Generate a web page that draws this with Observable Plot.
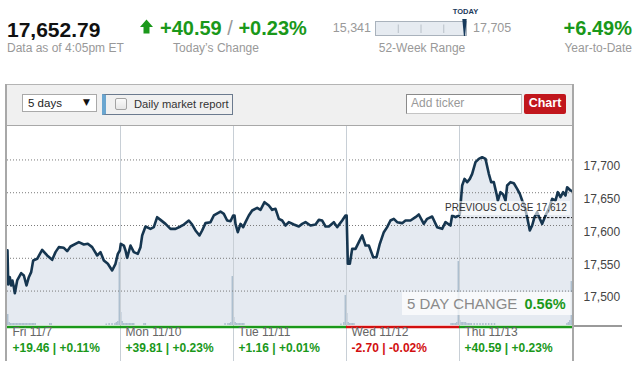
<!DOCTYPE html>
<html><head><meta charset="utf-8">
<script src="https://cdn.jsdelivr.net/npm/d3@7"></script>
<script src="https://cdn.jsdelivr.net/npm/@observablehq/plot@0.6"></script>
<style>
html,body{margin:0;padding:0;width:637px;height:374px;overflow:hidden;background:#fff}
#wrap{position:relative;width:637px;height:374px;overflow:hidden;font-family:"Liberation Sans",Arial,sans-serif}
.a{position:absolute;white-space:nowrap;box-sizing:border-box}
</style></head><body>
<div id="wrap"></div>
<script>
// ---------- DATA ----------
const lastPrice = 17652.79;
const todayChange = 40.59;
const todayPct = 0.23;
const ytdPct = 6.49;
const week52Low = 15341;
const week52High = 17705;
const asOfText = "Data as of 4:05pm ET";
const prevClose = 17612;
const fiveDayPct = 0.56;
const periodLabel = "5 days";
const dayLabels = ["Fri 11/7", "Mon 11/10", "Tue 11/11", "Wed 11/12", "Thu 11/13"];
const dayChanges = [19.46, 39.81, 1.16, -2.70, 40.59];
const dayPcts = [0.11, 0.23, 0.01, -0.02, 0.23];
const yTicks = [17500, 17550, 17600, 17650, 17700];

// intraday prices: [minute after open, price]
const fri = [[0,17562],[2.5,17510],[8,17521.2],[12.6,17508.5],[17,17516.2],[21.9,17506.0],[25.3,17496.8],[33.4,17516.2],[47.2,17527.4],[56.4,17523.8],[65.6,17508.5],[73.6,17521.2],[81.7,17528.9],[88.6,17546.7],[102.4,17549.2],[119.6,17562.9],[136.9,17554.3],[154.2,17547.7],[165.7,17559.4],[177.2,17567.0],[194.4,17566.0],[205.9,17560.9],[217.4,17568.0],[246.2,17574.6],[263.4,17571.1],[277.2,17572.1],[292.2,17567.0],[309.5,17554.3],[321,17559.4],[332.5,17546.7],[346.3,17541.6],[361.2,17531.4],[372.7,17541.6],[380.8,17556.8],[387.7,17561.9]];
const mon = [[1.1,17572.1],[11.5,17569.5],[17.3,17561.9],[23,17550.7],[34.5,17569.5],[46,17559.4],[59.8,17556.8],[69,17567.0],[74.8,17584.8],[86.3,17598.5],[103.5,17594.9],[115,17597.5],[126.5,17612.7],[138,17608.6],[155.3,17602.5],[172.5,17594.9],[189.8,17594.9],[207.1,17598.5],[218.6,17601.5],[235.8,17607.6],[247.3,17601.5],[258.8,17592.4],[272.6,17584.8],[281.8,17592.4],[293.3,17603.6],[310.6,17605.1],[322.1,17615.3],[345.1,17621.3],[356.6,17617.8],[368.1,17607.6],[379.6,17606.6],[388.8,17615.3]];
const tue = [[3.5,17615.3],[6.9,17602.5],[14.9,17589.8],[24.2,17602.5],[33.4,17597.5],[41.4,17605.1],[52.9,17615.3],[64.4,17622.9],[81.7,17626.9],[93.2,17623.9],[107,17635.6],[122,17630.5],[133.5,17623.9],[145,17625.4],[156.5,17610.2],[168,17607.6],[179.5,17600.0],[191,17605.1],[208.3,17601.5],[225.5,17598.5],[237,17602.5],[248.5,17605.1],[265.8,17600.0],[283.1,17601.5],[294.6,17608.6],[306.1,17607.6],[317.6,17598.5],[329.1,17598.5],[346.3,17605.1],[357.8,17597.5],[375.1,17607.6],[386.6,17615.3]];
const wed = [[0.5,17615.3],[4.6,17541.6],[11.5,17541.6],[19.6,17564.4],[31.1,17564.4],[42.6,17574.6],[54.1,17584.8],[65.6,17569.5],[77.1,17569.5],[92.1,17551.7],[103.5,17551.7],[115,17572.1],[128.8,17589.8],[140.3,17597.5],[151.8,17607.6],[163.3,17610.2],[174.8,17605.1],[192.1,17603.6],[203.6,17607.6],[220.8,17607.6],[238.1,17612.7],[249.6,17616.8],[266.8,17602.5],[278.3,17610.2],[295.6,17613.7],[312.8,17597.5],[330.1,17594.9],[341.6,17605.1],[358.8,17600.0],[364.6,17615.3],[376.1,17612.7],[387.6,17615.3]];
const thu = [[1.1,17617.8],[9.2,17661.0],[17.3,17671.1],[26.5,17666.1],[35.7,17671.1],[43.7,17678.8],[55.2,17696.6],[66.7,17701.6],[78.2,17704.2],[89.7,17701.6],[101.2,17678.8],[109.3,17666.1],[118.5,17666.1],[127.7,17648.3],[132.3,17638.1],[141.5,17650.8],[150.7,17647.3],[158.8,17638.1],[164.5,17661.0],[176,17666.1],[187.5,17664.5],[199,17655.9],[208.2,17648.3],[216.3,17638.1],[224.3,17630.5],[233.5,17612.7],[242.7,17592.4],[250.8,17600.0],[258.8,17612.7],[268,17620.3],[277.2,17610.2],[285.3,17602.5],[296.8,17615.3],[308.3,17625.4],[319.8,17640.7],[331.3,17638.1],[339.3,17650.8],[348.5,17643.2],[357.8,17650.8],[365.8,17645.7],[371.5,17658.4],[383,17653.4],[390,17652.79]];

// volume (5-minute bars): start minute over the 5 sessions, relative volume
const volMinutes = [0,5,10,15,20,25,30,35,40,45,50,55,60,65,70,75,80,85,90,95,145,150,340,350,360,370,375,380,385,
  390,395,400,405,410,415,420,425,430,435,470,475,750,760,765,770,775,
  780,785,790,795,800,805,810,815,1150,1160,1165,
  1170,1175,1180,1185,1190,1195,1530,1535,1540,1545,1550,1555,
  1560,1565,1570,1575,1580,1585,1590,1595,1600,1610,1620,1630,1640,1650,1660,1670,1680,1930,1935,1940,1945];
const volValues = [11,3,2,2,2,2,2,2,2,2,2,2,2,2,2,2,2,2,2,2,2,2,1.5,2,2,2,3,4,63,
  13,4,2,2,2,2,2,2,2,2,2,2,2,2,2,3,49,
  8,3,2,2,2,2,2,2,1.5,3,30,
  12,3,2,2,2,2,2,2,2,2,3,64,
  5,3,3,3,3,2,2,2,2,2,2,2,2,2,2,2,2,2,3,5,44];

// ---------- STYLE ----------
const GREEN = "#1a981a", RED = "#d20f0f", GREY = "#999";
const fmt2 = d3.format(",.2f");
const fmtInt = d3.format(",");
const sgn = v => (v >= 0 ? "+" : "") + v.toFixed(2);
const wrap = document.getElementById("wrap");

// ---------- HEADER (svg text) ----------
const header = d3.select(wrap).append("svg").attr("class","a")
  .style("left","0px").style("top","0px").attr("width",637).attr("height",84)
  .style("font-family",'"Liberation Sans",Arial,sans-serif');
header.append("text").attr("x",7).attr("y",36.5).attr("font-size",21).attr("font-weight","bold").attr("fill","#111").text(fmt2(lastPrice));
header.append("text").attr("x",7).attr("y",52).attr("font-size",12).attr("fill",GREY).text(asOfText);
header.append("path").attr("d","M140,27 L146.5,19.5 L153,27 L149.5,27 L149.5,33.5 L143.5,33.5 L143.5,27 Z").attr("fill",GREEN);
const chg = header.append("text").attr("x",160).attr("y",35).attr("font-size",20);
chg.append("tspan").attr("font-weight","bold").attr("fill",GREEN).text(sgn(todayChange));
chg.append("tspan").attr("fill",GREY).text(" / ");
chg.append("tspan").attr("font-weight","bold").attr("fill",GREEN).text(sgn(todayPct) + "%");
header.append("text").attr("x",216).attr("y",52).attr("font-size",12).attr("fill",GREY).attr("text-anchor","middle").text("Today\u2019s Change");
// 52-week range
const rx = d3.scaleLinear().domain([week52Low, week52High]).range([375.5, 466.5]);
header.append("text").attr("x",371).attr("y",31.5).attr("font-size",12.5).attr("fill",GREY).attr("text-anchor","end").text(fmtInt(week52Low));
header.append("rect").attr("x",375.5).attr("y",21.5).attr("width",91).attr("height",14).attr("fill","#e6ebf1").attr("stroke","#a9b2bc");
[0.25,0.5,0.75].forEach(f => header.append("line").attr("x1",375.5+91*f).attr("x2",375.5+91*f).attr("y1",24.5).attr("y2",33).attr("stroke","#b8c0c8"));
const mx = rx(lastPrice);
header.append("path").attr("d",`M${mx-2.2},19 L${mx+2.2},19 L${mx+0.6},36 L${mx-0.6},36 Z`).attr("fill","#173a5c");
header.append("text").attr("x",mx+1).attr("y",13.5).attr("font-size",7.5).attr("font-weight","bold").attr("fill","#1b3a5c").attr("text-anchor","middle").text("TODAY");
header.append("text").attr("x",473).attr("y",31.5).attr("font-size",12.5).attr("fill",GREY).text(fmtInt(week52High));
header.append("text").attr("x",422).attr("y",52).attr("font-size",12).attr("fill",GREY).attr("text-anchor","middle").text("52-Week Range");
header.append("text").attr("x",632).attr("y",35).attr("font-size",20).attr("font-weight","bold").attr("fill",GREEN).attr("text-anchor","end").text(sgn(ytdPct) + "%");
header.append("text").attr("x",632).attr("y",52).attr("font-size",12).attr("fill",GREY).attr("text-anchor","end").text("Year-to-Date");

// ---------- PANEL CHROME ----------
function box(css, html) {
  const d = document.createElement("div"); d.className = "a";
  Object.assign(d.style, css); if (html != null) d.innerHTML = html;
  wrap.appendChild(d); return d;
}
box({left:"6px",top:"84px",width:"567px",height:"42px",background:"#f0f0f0",borderTop:"1px solid #b4b4b4",borderBottom:"1px solid #a8a8a8"});
box({left:"22px",top:"94px",width:"75px",height:"18px",background:"#fff",border:"1px solid #a9a9a9",font:"11.5px 'Liberation Sans',Arial",color:"#222",lineHeight:"16px",paddingLeft:"5px"}, periodLabel);
box({left:"83px",top:"94px",width:"10px",height:"18px",font:"9px 'DejaVu Sans',sans-serif",color:"#111",lineHeight:"17px"}, "\u25BC");
box({left:"102px",top:"94px",width:"131px",height:"21px",background:"#f0f0f0",border:"1px solid #6b7a8e",borderLeft:"4px solid #6aa6d0"});
box({left:"115px",top:"98px",width:"12px",height:"12px",background:"linear-gradient(#fafafa,#e6e6e6)",border:"1px solid #a3a3a3",borderRadius:"2px"});
box({left:"134px",top:"96px",height:"16px",font:"11.2px 'Liberation Sans',Arial",color:"#333",lineHeight:"16px"}, "Daily market report");
box({left:"406px",top:"94px",width:"116px",height:"20px",background:"#fff",border:"1px solid #c4c4c4",borderTop:"1px solid #8a8a8a",borderLeft:"1px solid #8a8a8a",font:"12px 'Liberation Sans',Arial",color:"#999",lineHeight:"17px",paddingLeft:"4px"}, "Add ticker");
box({left:"524px",top:"94px",width:"42px",height:"20px",background:"#c1161c",borderRadius:"2px",font:"bold 12.5px 'Liberation Sans',Arial",color:"#fff",lineHeight:"19px",textAlign:"center"}, "Chart");

// ---------- CHART ----------
const series = [fri, mon, tue, wed, thu].flatMap((arr, d) => arr.map(([m, v]) => ({t: d * 390 + m, v})));
const days = dayLabels.map((label, i) => ({start: i * 390, end: (i + 1) * 390, label, chg: dayChanges[i], pct: dayPcts[i]}));
const yMin = 17447.5, yMax = 17751;
const volToPrice = 1.524; // vertical size of one volume unit in price units
const vol = volMinutes.map((t, i) => ({t, v: volValues[i]}));

const chart = Plot.plot({
  width: 637, height: 244,
  marginLeft: 7, marginRight: 65, marginTop: 0, marginBottom: 45,
  x: {domain: [0, 1950], axis: null},
  y: {domain: [yMin, yMax], axis: null},
  color: {type: "identity"},
  style: {fontFamily: '"Liberation Sans",Arial,sans-serif', fontSize: "12px", background: "transparent", overflow: "visible"},
  marks: [
    Plot.areaY(series, {x: "t", y1: yMin, y2: "v", fill: "#e5eaf1"}),
    Plot.rect(vol, {x1: "t", x2: d => d.t + 5, y1: yMin, y2: d => yMin + d.v * volToPrice, fill: "#adbfcf", inset: 0}),
    Plot.ruleY(yTicks, {stroke: "#7a7a7a", strokeDasharray: "1,2", strokeWidth: 1}),
    Plot.ruleX(days.slice(1), {x: "start", stroke: "#c8cfd6", insetBottom: -36}),
    Plot.lineY(series, {x: "t", y: "v", stroke: "#163650", strokeWidth: 2.6, strokeLinejoin: "round"}),
    Plot.ruleY([prevClose], {x1: 4 * 390, x2: 1950, stroke: "#111", strokeDasharray: "2.5,1.5", strokeWidth: 1}),
    Plot.ruleY(days, {x1: "start", x2: "end", y: yMin, dy: 1.5, stroke: d => d.chg >= 0 ? GREEN : RED, strokeWidth: 2.5}),
    Plot.axisY(yTicks, {anchor: "right", tickSize: 0, tickPadding: 11, dy: 6.5, fill: "#444", fontSize: 12, tickFormat: fmtInt, label: null}),
    Plot.text(days, {x: "start", frameAnchor: "bottom", text: "label", dx: 5, dy: 10, textAnchor: "start", fill: "#666", fontSize: 12}),
    Plot.text(days, {x: "start", frameAnchor: "bottom", text: d => `${sgn(d.chg)} | ${sgn(d.pct)}%`, dx: 5, dy: 26, textAnchor: "start", fill: d => d.chg >= 0 ? GREEN : RED, fontWeight: "bold", fontSize: 12})
  ]
});
chart.style.position = "absolute"; chart.style.left = "0px"; chart.style.top = "126px";
chart.style.maxWidth = "none"; chart.style.height = "244px";
wrap.appendChild(chart);

// panel borders
box({left:"5px",top:"84px",width:"2px",height:"277px",background:"#a8a8a8"});
box({left:"572px",top:"84px",width:"2px",height:"277px",background:"#a8a8a8"});
box({left:"574px",top:"325px",width:"48px",height:"2px",background:"#9a9a9a"});

// annotations
box({left:"442px",top:"201px",width:"128px",height:"14px",background:"rgba(255,255,255,0.6)",font:"10px 'Liberation Sans',Arial",color:"#333",lineHeight:"14px",paddingLeft:"3px"}, `PREVIOUS CLOSE ${fmtInt(prevClose)}`);
box({left:"402px",top:"292px",width:"170px",height:"23px",background:"rgba(255,255,255,0.72)",font:"15px 'Liberation Sans',Arial",color:"#8a8a8a",lineHeight:"23px",paddingLeft:"5px"},
  `5 DAY CHANGE <b style="color:${GREEN};font-size:14.5px;margin-left:3px">${fiveDayPct.toFixed(2)}%</b>`);
</script>
</body></html>
